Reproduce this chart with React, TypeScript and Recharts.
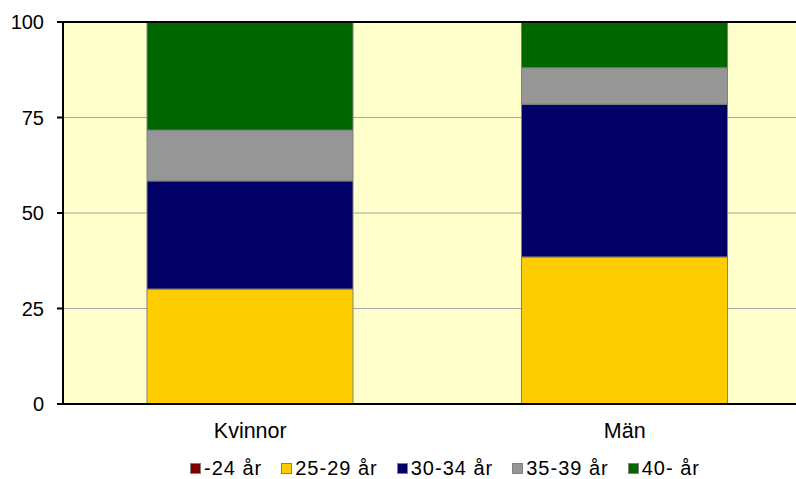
import React from "react";
import {
  BarChart,
  Bar,
  XAxis,
  YAxis,
  CartesianGrid,
  Legend,
  ReferenceLine,
} from "recharts";

// categories and values (percent)
const categories = ["Kvinnor", "Män"];
const age24 = [0, 0];
const age2529 = [30.1, 38.5];
const age3034 = [28.3, 40.0];
const age3539 = [13.3, 9.5];
const age40 = [28.3, 12.0];
const yTicks = [0, 25, 50, 75, 100];

const seriesDefs = [
  { key: "a24", name: "-24 år", color: "#800000", values: age24 },
  { key: "a2529", name: "25-29 år", color: "#FFCC00", values: age2529 },
  { key: "a3034", name: "30-34 år", color: "#000066", values: age3034 },
  { key: "a3539", name: "35-39 år", color: "#969696", values: age3539 },
  { key: "a40", name: "40- år", color: "#006600", values: age40 },
];

const chartData = categories.map((cat, i) => {
  const row: Record<string, string | number> = { name: cat };
  seriesDefs.forEach((s) => {
    row[s.key] = s.values[i];
  });
  return row;
});

const font = "'Liberation Sans', Arial, sans-serif";

const XTick = (props: any) => {
  const { x, y, payload } = props;
  return (
    <text
      x={x}
      y={y + 26}
      textAnchor="middle"
      fill="#000"
      style={{ fontSize: "21.5px", fontFamily: font }}
    >
      {payload.value}
    </text>
  );
};

const YTick = (props: any) => {
  const { x, y, payload } = props;
  return (
    <text
      x={x - 1}
      y={y + 7}
      textAnchor="end"
      fill="#000"
      style={{ fontSize: "20px", fontFamily: font }}
    >
      {payload.value}
    </text>
  );
};

const CustomLegend: React.FC = () => (
  <div
    style={{
      display: "flex",
      justifyContent: "flex-start",
      gap: 19,
      fontFamily: font,
      fontSize: "20px",
      letterSpacing: "1px",
      lineHeight: "20px",
      color: "#000",
      paddingLeft: 190,
      marginTop: 16,
    }}
  >
    {seriesDefs.map((s) => (
      <div key={s.key} style={{ display: "flex", alignItems: "center" }}>
        <div
          style={{
            width: 9,
            height: 9,
            background: s.color,
            border: "1px solid #808080",
            marginRight: 3,
            marginTop: 1,
          }}
        ></div>
        <span>{s.name}</span>
      </div>
    ))}
  </div>
);

export default function App() {
  return (
    <div
      style={{
        position: "absolute",
        left: 0,
        top: 0,
        width: 796,
        height: 479,
        overflow: "hidden",
        background: "#fff",
      }}
    >
      <BarChart
        width={812}
        height={479}
        data={chartData}
        margin={{ top: 22, right: 0, left: 0, bottom: 0 }}
        barSize={206}
      >
        <CartesianGrid
          vertical={false}
          stroke="#A6A6A6"
          strokeWidth={1}
          fill="#FFFFCC"
        />
        <XAxis
          dataKey="name"
          axisLine={{ stroke: "#000", strokeWidth: 2 }}
          tickLine={false}
          tick={<XTick />}
          height={38}
        />
        <YAxis
          width={63}
          domain={[0, 100]}
          ticks={yTicks}
          interval={0}
          axisLine={{ stroke: "#000", strokeWidth: 2 }}
          tickLine={{ stroke: "#000", strokeWidth: 2 }}
          tickSize={6}
          tickMargin={12}
          tick={<YTick />}
        />
        <ReferenceLine y={100} stroke="#000" strokeWidth={2} />
        <Legend
          verticalAlign="bottom"
          align="left"
          height={37}
          wrapperStyle={{ left: 0, width: 812 }}
          content={() => <CustomLegend />}
        />
        {seriesDefs.map((s) => (
          <Bar
            key={s.key}
            dataKey={s.key}
            name={s.name}
            stackId="a"
            fill={s.color}
            stroke="#808080"
            strokeWidth={1}
            isAnimationActive={false}
          />
        ))}
      </BarChart>
    </div>
  );
}
